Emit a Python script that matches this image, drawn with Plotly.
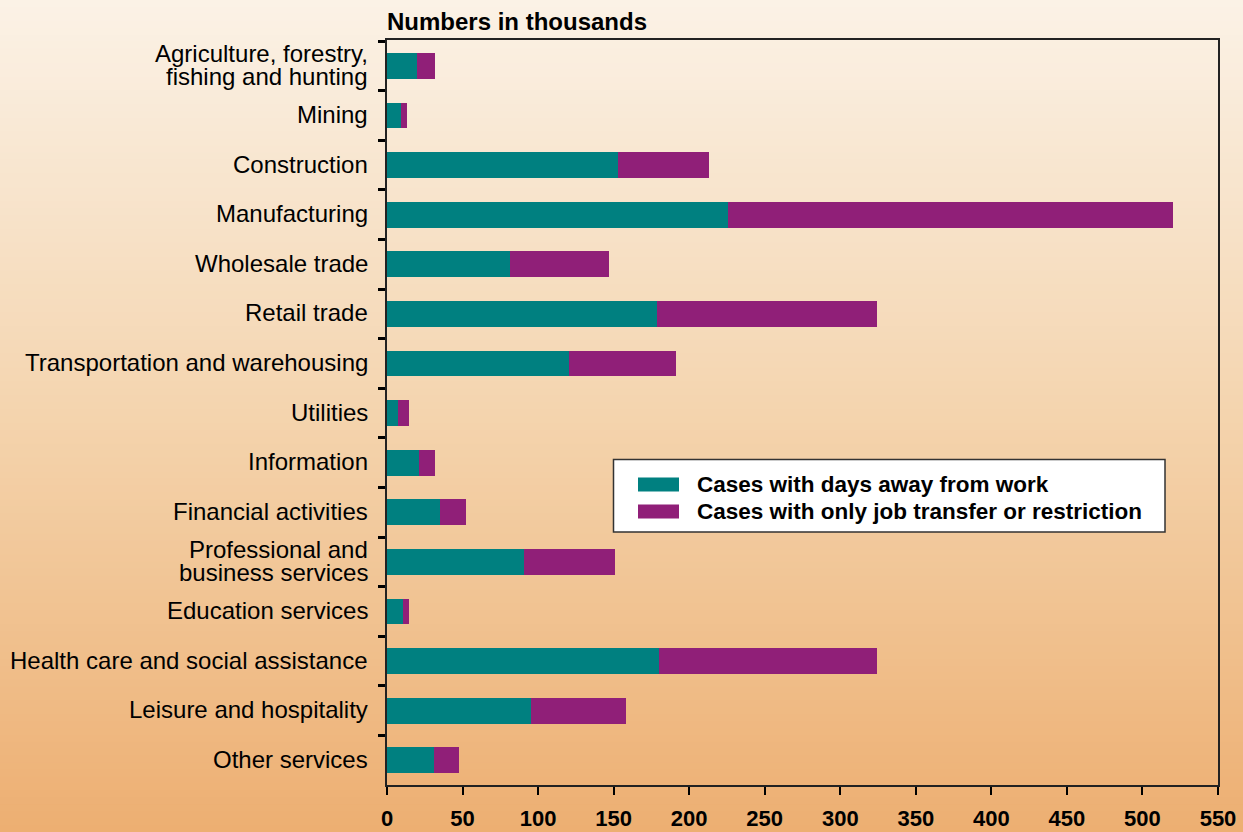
import plotly.graph_objects as go

categories = [
    "Agriculture, forestry,<br>fishing and hunting",
    "Mining",
    "Construction",
    "Manufacturing",
    "Wholesale trade",
    "Retail trade",
    "Transportation and warehousing",
    "Utilities",
    "Information",
    "Financial activities",
    "Professional and<br>business services",
    "Education services",
    "Health care and social assistance",
    "Leisure and hospitality",
    "Other services",
]
days_away = [20, 9, 153, 225.5, 81.5, 179, 120.5, 7.3, 21, 35, 90.5, 10.6, 180, 95.5, 31]
totals = [32, 13, 213, 520.5, 147, 324, 191, 14.6, 32, 52.3, 151, 14.6, 324, 158, 47.7]
transfer = [round(t - d, 1) for t, d in zip(totals, days_away)]
x_ticks = [0, 50, 100, 150, 200, 250, 300, 350, 400, 450, 500, 550]
series_names = ["Cases with days away from work", "Cases with only job transfer or restriction"]

TEAL = "#008080"
PURPLE = "#901F78"
FONT = "Liberation Sans, Arial, Helvetica, sans-serif"

W, H = 1243, 832
ml, mr, mt, mb = 387, 25, 40, 47
pw, ph = W - ml - mr, H - mt - mb


def px_x(px):
    return (px - ml) / pw


def px_y(py):
    return (H - mb - py) / ph


fig = go.Figure()
fig.add_trace(go.Bar(y=categories, x=days_away, orientation="h", name=series_names[0],
                     marker=dict(color=TEAL, line=dict(width=0)), showlegend=False,
                     hoverinfo="skip"))
fig.add_trace(go.Bar(y=categories, x=transfer, orientation="h", name=series_names[1],
                     marker=dict(color=PURPLE, line=dict(width=0)), showlegend=False,
                     hoverinfo="skip"))

# background vertical gradient via thin bands in paper coords
top = (251, 242, 230)
mid = (244, 212, 174)
bot = (237, 175, 114)
n = 120
shapes = []
for i in range(n):
    f = i / (n - 1)
    if f < 0.5:
        g = f / 0.5
        c = [round(top[k] + (mid[k] - top[k]) * g) for k in range(3)]
    else:
        g = (f - 0.5) / 0.5
        c = [round(mid[k] + (bot[k] - mid[k]) * g) for k in range(3)]
    y0px = i * H / n
    y1px = (i + 1) * H / n + 1
    shapes.append(dict(type="rect", xref="paper", yref="paper", layer="below",
                       x0=px_x(-2), x1=px_x(W + 2), y0=px_y(y1px), y1=px_y(y0px),
                       fillcolor="rgb(%d,%d,%d)" % tuple(c), line=dict(width=0)))

annotations = [dict(text="<b>Numbers in thousands</b>", xref="paper", yref="paper",
                    x=0, y=1, xanchor="left", yanchor="bottom", xshift=-2, yshift=3,
                    showarrow=False, font=dict(size=24, family=FONT))]

# category labels (separate lines for tight line spacing)
for cat in categories:
    lines = cat.split("<br>")
    k = len(lines)
    for j, line in enumerate(lines):
        shift = ((k - 1) / 2 - j) * 23 + 1
        annotations.append(dict(text=line, xref="paper", yref="y", x=0, y=cat,
                                xanchor="right", yanchor="middle", xshift=-17, yshift=shift,
                                showarrow=False, font=dict(size=24, family=FONT, color="#000")))

# legend box drawn manually
shapes.append(dict(type="rect", xref="paper", yref="paper", x0=px_x(613.5), x1=px_x(1165),
                   y0=px_y(532), y1=px_y(459.5), fillcolor="#FFFFFF",
                   line=dict(color="#333333", width=1.5), layer="above"))
for idx, (col, ycen) in enumerate([(TEAL, 484.5), (PURPLE, 511.5)]):
    shapes.append(dict(type="rect", xref="paper", yref="paper", x0=px_x(638), x1=px_x(679),
                       y0=px_y(ycen + 7), y1=px_y(ycen - 7), fillcolor=col,
                       line=dict(width=0), layer="above"))
    annotations.append(dict(text="<b>%s</b>" % series_names[idx], xref="paper", yref="paper",
                            x=px_x(695), y=px_y(ycen), xanchor="left", yanchor="middle",
                            showarrow=False, font=dict(size=22.5, family=FONT, color="#000")))

fig.update_layout(
    width=W, height=H, autosize=False,
    barmode="stack", bargap=0.48,
    margin=dict(l=ml, r=mr, t=mt, b=mb, pad=0, autoexpand=False),
    paper_bgcolor="rgba(0,0,0,0)", plot_bgcolor="rgba(0,0,0,0)",
    font=dict(family=FONT, color="#000000"),
    shapes=shapes,
    annotations=annotations,
    showlegend=False,
    hovermode=False,
)
fig.update_xaxes(range=[0, 550], tickvals=x_ticks, ticks="outside", ticklen=8, tickwidth=2,
                 tickcolor="#000", showgrid=False, zeroline=False, showline=True, linecolor="#222",
                 linewidth=1.5, mirror=True, tickfont=dict(size=22, weight="bold"),
                 ticklabelstandoff=5, fixedrange=True, automargin=False)
fig.update_yaxes(autorange="reversed", type="category", tickson="boundaries", ticks="outside",
                 ticklen=7, tickwidth=3, tickcolor="#000", showgrid=False, showline=True,
                 linecolor="#222", linewidth=2, mirror=True, showticklabels=False,
                 fixedrange=True, automargin=False)

css_bg = "linear-gradient(to bottom, rgb(251,242,230), rgb(244,212,174), rgb(237,175,114))"
post = ("document.body.style.margin='0';"
        "document.documentElement.style.background='%s';"
        "document.body.style.background='%s';" % (css_bg, css_bg))

fig.write_html("out.html", config={"responsive": False, "displayModeBar": False},
               post_script=post)
